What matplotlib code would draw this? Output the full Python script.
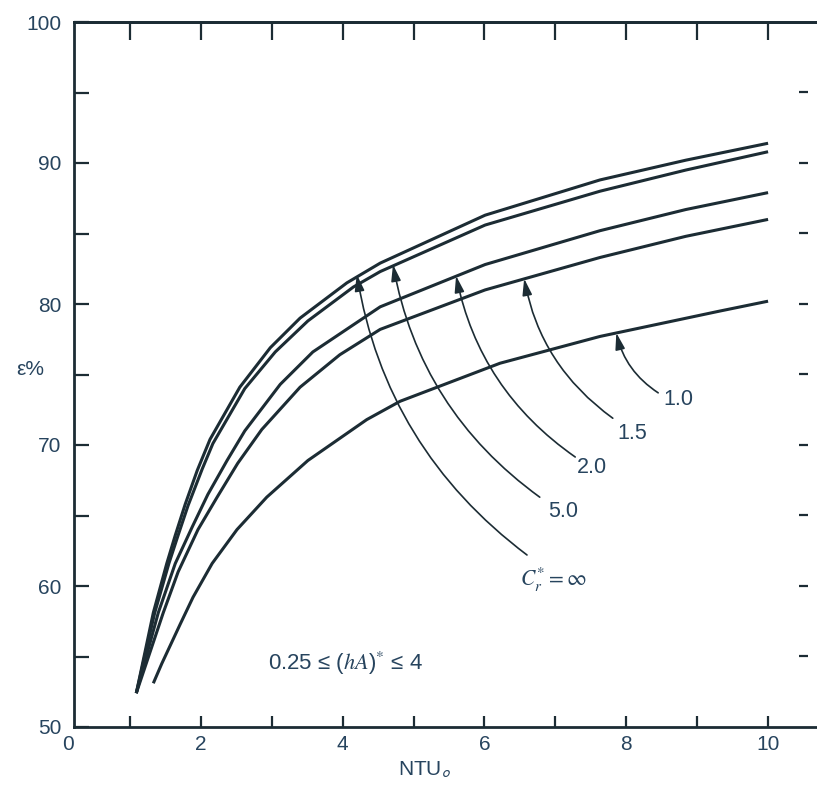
import matplotlib
matplotlib.use("Agg")
import matplotlib.pyplot as plt
import numpy as np

plt.rcParams['font.family'] = ['Liberation Sans', 'DejaVu Sans']
plt.rcParams['mathtext.fontset'] = 'stix'

LINE = '#1c2c34'
TXT = '#27445e'

# ---- data ----
cr_labels = ['$C_r^{*} = \\infty$', '5.0', '2.0', '1.5', '1.0']

x_inf = [1.09, 1.33, 1.52, 1.64, 1.78, 1.95, 2.13, 2.55, 2.98, 3.40, 4.06, 4.53, 6.01, 7.63, 8.84, 10.0]
y_inf = [52.4, 58.1, 61.6, 63.6, 65.8, 68.2, 70.4, 74.1, 76.9, 79.0, 81.5, 82.9, 86.3, 88.8, 90.2, 91.4]

x_50 = [1.09, 1.35, 1.55, 1.68, 1.82, 2.02, 2.17, 2.62, 3.05, 3.51, 4.15, 4.53, 6.01, 7.63, 8.84, 10.0]
y_50 = [52.4, 58.1, 61.6, 63.6, 65.7, 68.3, 70.1, 74.0, 76.6, 78.8, 81.2, 82.3, 85.6, 88.0, 89.5, 90.8]

x_20 = [1.09, 1.40, 1.64, 1.88, 2.10, 2.37, 2.62, 3.12, 3.58, 4.53, 6.01, 7.63, 8.84, 10.0]
y_20 = [52.4, 58.1, 61.6, 64.2, 66.5, 68.9, 71.0, 74.3, 76.6, 79.8, 82.8, 85.2, 86.7, 87.9]

x_15 = [1.09, 1.47, 1.68, 1.96, 2.23, 2.52, 2.86, 3.40, 3.96, 4.53, 6.01, 7.63, 8.84, 10.0]
y_15 = [52.4, 58.1, 61.0, 64.0, 66.3, 68.7, 71.1, 74.1, 76.4, 78.2, 81.0, 83.3, 84.8, 86.0]

x_10 = [1.33, 1.45, 1.71, 1.89, 2.16, 2.51, 2.93, 3.51, 4.34, 4.81, 6.22, 7.63, 9.32, 10.0]
y_10 = [53.1, 54.5, 57.3, 59.2, 61.6, 64.0, 66.3, 68.9, 71.8, 73.1, 75.8, 77.7, 79.5, 80.2]

# arrow tips (on curve) and label anchors
tip_x = [4.20, 4.71, 5.60, 6.56, 7.86]
tip_y = [82.1, 82.8, 82.0, 81.8, 77.95]
tail_x = [6.60, 6.78, 7.28, 7.81, 8.45]
tail_y = [62.2, 66.3, 69.15, 71.9, 73.7]
lab_x = [6.97, 7.11, 7.52, 8.08, 8.73]
lab_y = [60.4, 65.25, 68.4, 70.85, 73.2]

x_tick_labels = ['2', '4', '6', '8', '10']
x_tick_pos = [2, 4, 6, 8, 10]
y_tick_pos = [50, 60, 70, 80, 90, 100]

fig = plt.figure(figsize=(8.17, 7.86), dpi=100)
ax = fig.add_axes([74/817, 1-727/786, (817-74)/817, (727-22)/786])
ax.set_xlim(0.2116, 10.69)
ax.set_ylim(50, 100)

for xs, ys in [(x_inf, y_inf), (x_50, y_50), (x_20, y_20), (x_15, y_15), (x_10, y_10)]:
    ax.plot(xs, ys, color=LINE, lw=2.2, solid_capstyle='butt', solid_joinstyle='round')

for i in range(5):
    ax.annotate('', xy=(tip_x[i], tip_y[i]), xytext=(tail_x[i], tail_y[i]),
                arrowprops=dict(arrowstyle='-|>,head_length=0.55,head_width=0.16',
                                connectionstyle='arc3,rad=-0.2', color=LINE,
                                lw=1.2, shrinkA=0, shrinkB=0, mutation_scale=18))
    ax.text(lab_x[i], lab_y[i], cr_labels[i], ha='center', va='center',
            fontsize=15.5, color=TXT)

ax.text(2.95, 54.5, r'0.25 ≤ ($hA$)$^{*}$ ≤ 4', ha='left', va='center',
        fontsize=16, color=TXT)

# spines
for s in ['left', 'bottom', 'top']:
    ax.spines[s].set_linewidth(2.0)
    ax.spines[s].set_color(LINE)
ax.spines['right'].set_visible(False)

ax.set_xticks(x_tick_pos)
ax.set_xticklabels(x_tick_labels)
ax.set_xticks([1, 3, 5, 7, 9], minor=True)
ax.set_yticks(y_tick_pos)
ax.set_yticklabels([str(v) for v in y_tick_pos])
ax.set_yticks([55, 65, 75, 85, 95], minor=True)
ax.tick_params(axis='x', which='both', direction='in', length=8, width=1.6,
               color=LINE, labelsize=15, labelcolor=TXT, pad=6, top=False)
ax.tick_params(axis='y', which='both', direction='in', length=11, width=1.6,
               color=LINE, labelsize=15, labelcolor=TXT, pad=9, right=False)
ax.annotate('0', xy=(0.13, 0), xycoords=('data', 'axes fraction'),
            xytext=(0, -6), textcoords='offset points', ha='center', va='top',
            fontsize=15, color=TXT, annotation_clip=False)

top = ax.secondary_xaxis('top')
top.set_xticks(list(range(1, 11)))
top.tick_params(direction='in', length=13, width=1.6, color=LINE, labeltop=False)
top.spines['top'].set_linewidth(2.0)
top.spines['top'].set_color(LINE)

right = ax.secondary_yaxis((808-74)/(817-74))
right.set_yticks(list(range(55, 100, 5)))
right.tick_params(direction='in', length=6.5, width=1.6, color=LINE, labelright=False)
for s in right.spines.values():
    s.set_visible(False)

fig.text(30/817, 1-370/786, 'ε%', ha='center', va='center', fontsize=15, color=TXT)
fig.text(425/817, 1-770/786, r'NTU$_{\mathsf{o}}$', ha='center', va='center',
         fontsize=15, color=TXT)

fig.savefig('out.png', dpi=100)
